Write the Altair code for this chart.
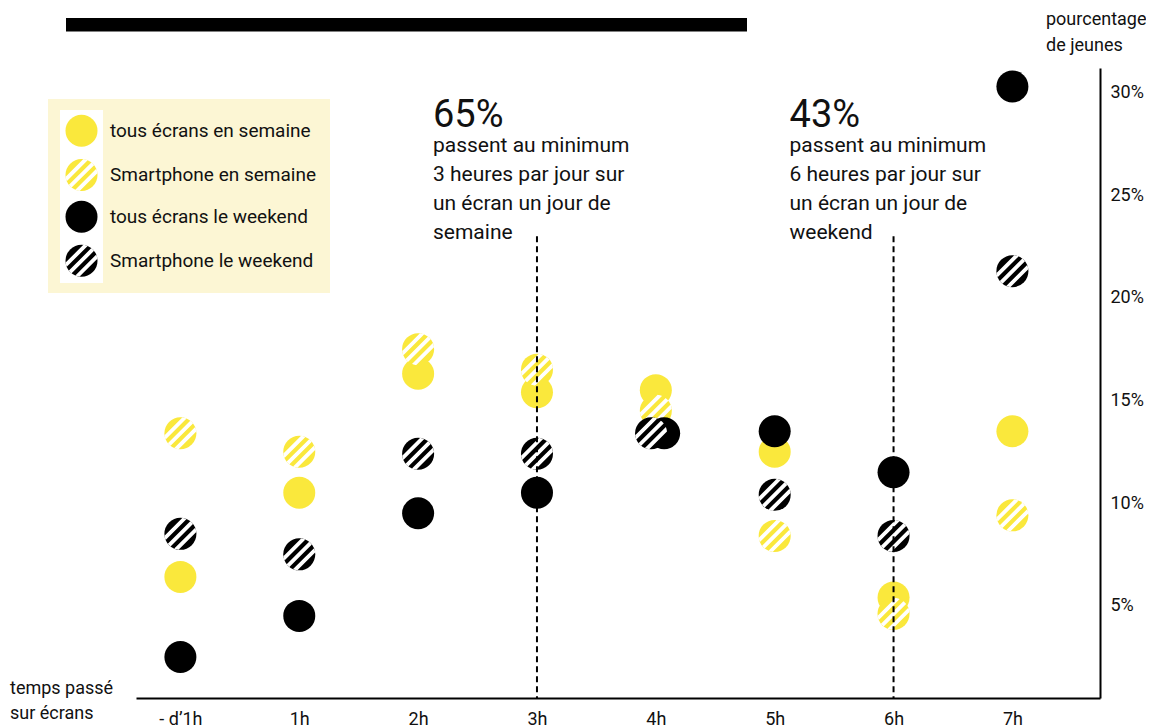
import json
import numpy as np
import pandas as pd
import altair as alt

# ---------------- data ----------------
hours = [0, 1, 2, 3, 4, 5, 6, 7]
x_labels = ["- d\u20191h", "1h", "2h", "3h", "4h", "5h", "6h", "7h"]
series_names = ["tous écrans en semaine", "Smartphone en semaine",
                "tous écrans le weekend", "Smartphone le weekend"]
tous_semaine = [6.4, 10.5, 16.3, 15.4, 15.5, 12.5, 5.4, 13.5]
smart_semaine = [13.4, 12.5, 17.5, 16.5, 14.5, 8.4, 4.6, 9.4]
tous_weekend = [2.5, 4.5, 9.5, 10.5, 13.4, 13.5, 11.5, 30.3]
smart_weekend = [8.5, 7.5, 12.4, 12.4, 13.4, 10.4, 8.4, 21.3]
y_ticks = [5, 10, 15, 20, 25, 30]

marker_hours = [3, 6]
marker_top = [23, 23]
marker_pct = ["65%", "43%"]
marker_text = ["passent au minimum\n3 heures par jour sur\nun écran un jour de\nsemaine",
               "passent au minimum\n6 heures par jour sur\nun écran un jour de\nweekend"]

# ---------------- style ----------------
YELLOW = "#FAE83C"
BLACK = "#000000"
TXT = "#111111"
FONT = "Roboto"
W, H = 964, 630
SIZE = 1024


def stripes_path(centers=(-0.5, 0.0, 0.5), hw=0.12, n=10):
    s2 = np.sqrt(2.0)
    parts = []
    for c in centers:
        d1, d2 = max(c - hw, -1.0), min(c + hw, 1.0)
        a1, a2 = np.arccos(d1), np.arccos(d2)
        th = np.concatenate([np.linspace(a1, a2, n), np.linspace(-a2, -a1, n)])
        xs = (np.cos(th) + np.sin(th)) / s2
        ys = (np.cos(th) - np.sin(th)) / s2
        pts = [f"{x:.3f},{y:.3f}" for x, y in zip(xs, ys)]
        parts.append("M" + " L".join(pts) + " Z")
    return " ".join(parts)


STRIPES = stripes_path()

label_expr = "%s[datum.value]" % json.dumps(x_labels, ensure_ascii=False)

x_enc = alt.X("xpos:Q",
              scale=alt.Scale(domain=[-0.3736, 7.737], nice=False, zero=False),
              axis=alt.Axis(values=hours, labelExpr=label_expr, title=None, ticks=False,
                            grid=False, domainColor=BLACK, domainWidth=2, labelFontSize=18,
                            labelFont=FONT, labelColor=TXT, labelPadding=12,
                            labelFlush=False, labelOverlap=False))
y_scale = alt.Scale(domain=[0.5, 31.2], nice=False, zero=False)
y_enc = alt.Y("value:Q", scale=y_scale,
              axis=alt.Axis(orient="right", values=y_ticks, labelExpr="datum.value + '%'",
                            title=None, ticks=False, grid=False, domainColor=BLACK,
                            domainWidth=2, labelFontSize=18, labelFont=FONT,
                            labelColor=TXT, labelPadding=10))


def series_df(vals, dodge=0.0):
    d = pd.DataFrame({"hour": hours, "value": vals})
    d["xpos"] = d["hour"] + np.where(d["hour"] == 4, dodge, 0.0)
    return d


layers = []
# series: yellow solid, yellow striped, black solid, black striped
specs = [(tous_semaine, YELLOW, False, 0.0),
         (smart_semaine, YELLOW, True, 0.0),
         (tous_weekend, BLACK, False, 0.07),
         (smart_weekend, BLACK, True, -0.04)]
for vals, col, striped, dodge in specs:
    d = series_df(vals, dodge)
    layers.append(alt.Chart(d).mark_point(shape="circle", filled=True, color=col,
                                          size=SIZE, opacity=1, strokeWidth=0)
                  .encode(x=x_enc, y=y_enc))
    if striped:
        layers.append(alt.Chart(d).mark_point(shape=STRIPES, filled=True, color="white",
                                              size=SIZE, opacity=1, strokeWidth=0)
                      .encode(x=x_enc, y=y_enc))

# dashed markers
mdf = pd.DataFrame({"xpos": marker_hours, "value": marker_top,
                    "pct": marker_pct, "txt": marker_text})
layers.append(alt.Chart(mdf).mark_rule(color=BLACK, strokeWidth=2, strokeDash=[6, 4])
              .encode(x=x_enc, y=y_enc, y2=alt.value(H)))
layers.append(alt.Chart(mdf).mark_text(align="left", baseline="alphabetic", dx=-104,
                                       font=FONT, fontSize=38, color=TXT)
              .encode(x=x_enc, y=alt.value(58.5), text="pct:N"))
layers.append(alt.Chart(mdf).mark_text(align="left", baseline="alphabetic", dx=-104,
                                       font=FONT, fontSize=21, color=TXT, lineBreak="\n",
                                       lineHeight=29)
              .encode(x=x_enc, y=alt.value(83.5), text="txt:N"))

one = pd.DataFrame({"a": [0]})

# top black bar
layers.append(alt.Chart(one).mark_rect(color=BLACK).encode(
    x=alt.value(-70), x2=alt.value(611), y=alt.value(-50), y2=alt.value(-36.5)))

# legend
layers.append(alt.Chart(one).mark_rect(color="#FCF6D4").encode(
    x=alt.value(-88), x2=alt.value(194), y=alt.value(31), y2=alt.value(225)))
layers.append(alt.Chart(one).mark_rect(color="white").encode(
    x=alt.value(-76), x2=alt.value(-33), y=alt.value(42), y2=alt.value(215)))
leg_y = [62.7, 107, 148.7, 192.7]
leg_col = [YELLOW, YELLOW, BLACK, BLACK]
leg_str = [False, True, False, True]
for name, ly, col, st in zip(series_names, leg_y, leg_col, leg_str):
    layers.append(alt.Chart(one).mark_point(shape="circle", filled=True, color=col,
                                            size=SIZE, opacity=1, strokeWidth=0)
                  .encode(x=alt.value(-54.5), y=alt.value(ly)))
    if st:
        layers.append(alt.Chart(one).mark_point(shape=STRIPES, filled=True, color="white",
                                                size=SIZE, opacity=1, strokeWidth=0)
                      .encode(x=alt.value(-54.5), y=alt.value(ly)))
    layers.append(alt.Chart(one).mark_text(text=name, align="left", baseline="middle",
                                           font=FONT, fontSize=19, color=TXT)
                  .encode(x=alt.value(-26), y=alt.value(ly)))

# axis titles
layers.append(alt.Chart(one).mark_text(text="pourcentage\nde jeunes", lineBreak="\n",
                                       lineHeight=26, align="left", baseline="middle",
                                       font=FONT, fontSize=18, color=TXT)
              .encode(x=alt.value(910), y=alt.value(-48)))
layers.append(alt.Chart(one).mark_text(text="temps passé\nsur écrans", lineBreak="\n",
                                       lineHeight=25, align="left", baseline="middle",
                                       font=FONT, fontSize=18, color=TXT)
              .encode(x=alt.value(-126), y=alt.value(621)))

chart = alt.layer(*layers).properties(
    width=W, height=H,
    padding={"left": 128, "top": 60, "right": 46, "bottom": 32},
    autosize=alt.AutoSizeParams(type="none"),
    background="white",
).configure_view(stroke=None)

chart.save("out.html", embed_options={"renderer": "svg", "actions": False})
